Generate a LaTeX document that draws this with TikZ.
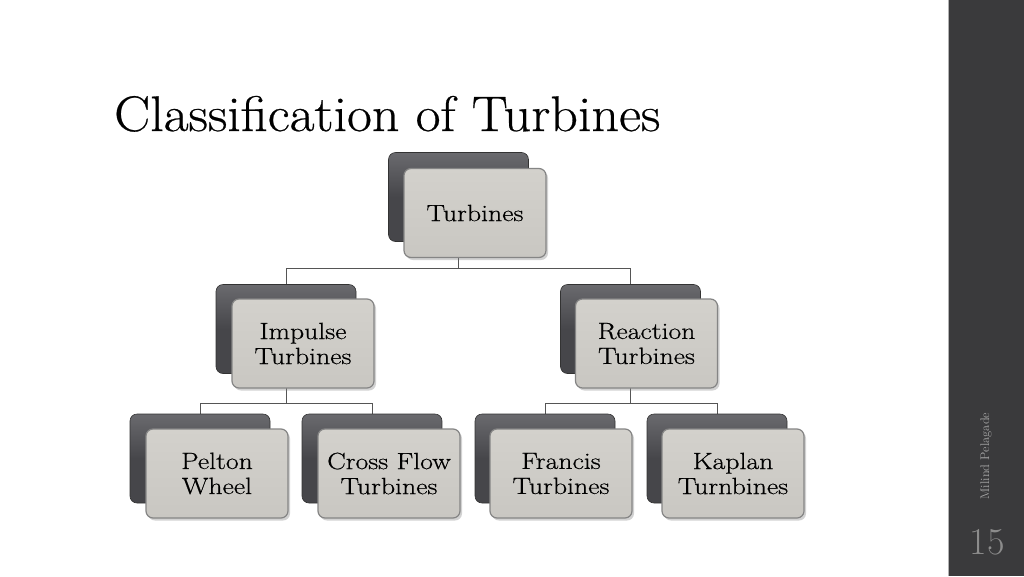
\documentclass[tikz,border=0pt]{standalone}
\usepackage{fontspec}
\newfontfamily\boxfont{Latin Modern Roman}[FakeStretch=1.18, FakeBold=0.6]
\newfontfamily\titlefont{Latin Modern Roman}[FakeStretch=1.08, FakeBold=0.5]
\usetikzlibrary{shadows,backgrounds}
\definecolor{sidebar}{HTML}{3A3A3C}
\definecolor{backdark}{HTML}{46464A}
\definecolor{backtop}{HTML}{6A6A6E}
\definecolor{frontfill}{HTML}{C9C7C2}
\definecolor{fronttop}{HTML}{D3D1CC}
\definecolor{frontedge}{HTML}{858585}
\definecolor{linecol}{HTML}{555555}
\definecolor{sidetext}{HTML}{A8A8A8}
\definecolor{pagenum}{HTML}{8C8C8C}
\tikzset{
  backbox/.style={rounded corners=7pt, minimum width=140pt, minimum height=89pt,
    inner sep=0pt, draw=black!80, line width=0.6pt, top color=backtop, bottom color=backdark,
    middle color=backdark},
  frontbox/.style={rounded corners=7pt, minimum width=142pt, minimum height=89pt,
    inner sep=0pt, draw=frontedge, line width=1.2pt, top color=fronttop, bottom color=frontfill,
    align=center, font=\boxfont\fontsize{23.5}{25}\selectfont, text=black,
    drop shadow={shadow xshift=2pt, shadow yshift=-2.5pt, opacity=0.35}},
  conn/.style={draw=linecol, line width=1pt},
}
\begin{document}
\begin{tikzpicture}[x=1pt,y=-1pt]
\useasboundingbox (0,0) rectangle (1024,576);

% title
\node[anchor=base west, inner sep=0pt, font=\titlefont\fontsize{50}{52}\selectfont] (title) at (114,131) {Classification of Turbines};

% back boxes
\node[backbox] (tb) at (458.5,197) {};
\node[backbox] (ilb) at (286,329) {};
\node[backbox] (rrb) at (630.5,329) {};
\node[backbox] (pb) at (200,458.5) {};
\node[backbox] (cb) at (372,458.5) {};
\node[backbox] (fb) at (545,458.5) {};
\node[backbox] (kb) at (717,458.5) {};

% front boxes
\node[frontbox] (t) at (475,213) {Turbines};
\node[frontbox] (il) at (303,343.5) {Impulse\\Turbines};
\node[frontbox] (rr) at (646.5,343.5) {Reaction\\Turbines};
\node[frontbox] (p) at (217,473.5) {Pelton\\Wheel};
\node[frontbox] (c) at (389,473.5) {Cross Flow\\Turbines};
\node[frontbox] (f) at (561,473.5) {Francis\\Turbines};
\node[frontbox] (k) at (733,473.5) {Kaplan\\Turnbines};

% bus coordinates
\coordinate (bus1) at (0,268);
\coordinate (bus2) at (0,403);

\begin{scope}[on background layer]
\fill[white] (0,0) rectangle (1024,576);
\draw[conn] (tb.center) -- (tb.center |- bus1) -| (ilb.north);
\draw[conn] (tb.center |- bus1) -| (rrb.north);
\draw[conn] (ilb.center) -- (ilb.center |- bus2) -| (pb.north);
\draw[conn] (ilb.center |- bus2) -| (cb.north);
\draw[conn] (rrb.center) -- (rrb.center |- bus2) -| (fb.north);
\draw[conn] (rrb.center |- bus2) -| (kb.north);
\end{scope}

% sidebar
\fill[sidebar] (948,0) rectangle (1024,576);
\draw[gray!60, line width=0.8pt] (948,0) -- (948,576);
\node[rotate=90, text=sidetext, font=\fontsize{12.5}{14}\selectfont, inner sep=0pt] (author) at (986,456) {Milind Pelagade};
\node[text=pagenum, font=\fontsize{38}{40}\selectfont, inner sep=0pt] (page) at (987,542) {15};
\end{tikzpicture}
\end{document}
